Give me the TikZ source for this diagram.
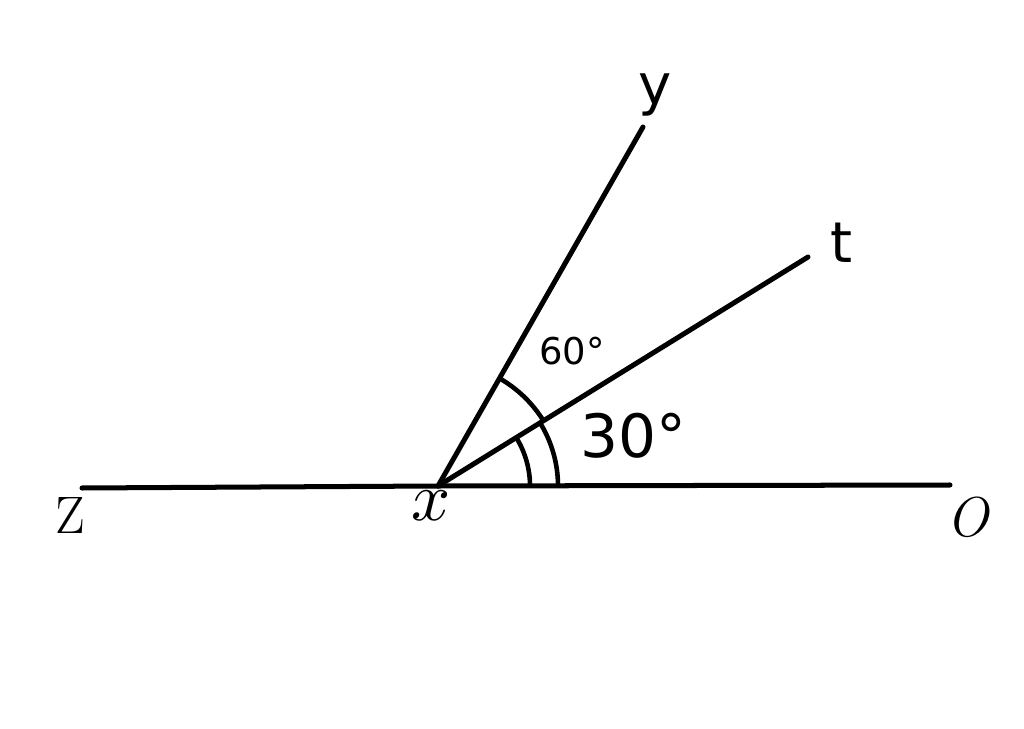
\documentclass[tikz,border=0pt]{standalone}
\usepackage{fontspec}
\newfontfamily\lblsans{DejaVu Sans}
\begin{document}
\begin{tikzpicture}[x=0.02cm,y=-0.02cm,
  ray/.style={line width=2.85pt,line cap=round},
  arcmark/.style={line width=2.6pt},
  lbl/.style={inner sep=0pt,anchor=center}]
\useasboundingbox (0,0) rectangle (1024,729);
\coordinate (X) at (438,486);
\coordinate (Zend) at (82,488);
\coordinate (Oend) at (950,485);
\coordinate (Yend) at (643,127);
\coordinate (Tend) at (808,257);
\draw[ray] (Zend) -- (X) -- (Oend);
\draw[ray] (X) -- (Yend);
\draw[ray] (X) -- (Tend);
% angle marks
\draw[arcmark] ([shift={(0:92)}]X) arc[start angle=0,end angle=-31.7,radius=92];
\draw[arcmark] ([shift={(0:120)}]X) arc[start angle=0,end angle=-31.7,radius=120];
\draw[arcmark] ([shift={(-31.7:124)}]X) arc[start angle=-31.7,end angle=-60.2,radius=124];
% labels
\node[lbl] (ly) at (655,95) {\lblsans\fontsize{32}{36}\selectfont y};
\node[lbl] (lt) at (842,243) {\lblsans\fontsize{32}{36}\selectfont t};
\node[lbl] (lz) at (70,515) {\fontsize{30}{34}\selectfont Z};
\node[lbl] (lx) at (431,506) {\scalebox{3.9}{$x$}};
\node[lbl] (lo) at (968,517) {\fontsize{32}{36}\selectfont \textit{O}};
\node[lbl] (l60) at (572,351) {\lblsans\fontsize{21}{25}\selectfont 60°};
\node[lbl] (l30) at (633,436) {\lblsans\fontsize{34}{38}\selectfont 30°};
\end{tikzpicture}
\end{document}
